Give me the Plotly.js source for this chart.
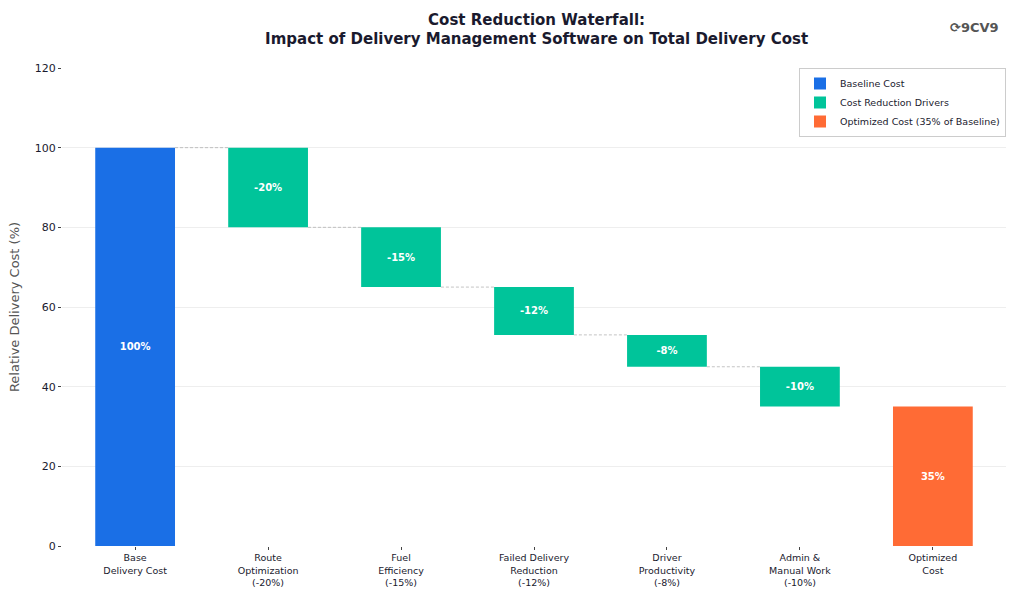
<!DOCTYPE html>
<html>
<head>
<meta charset="utf-8">
<script src="https://cdn.plot.ly/plotly-3.0.1.min.js"></script>
<style>body{margin:0;background:#fff}#chart{width:1024px;height:593px}</style>
</head>
<body>
<div id="chart"></div>
<script>
var categorias = ['Base<br>Delivery Cost', 'Route<br>Optimization<br>(-20%)', 'Fuel<br>Efficiency<br>(-15%)',
  'Failed Delivery<br>Reduction<br>(-12%)', 'Driver<br>Productivity<br>(-8%)', 'Admin &<br>Manual Work<br>(-10%)', 'Optimized<br>Cost'];
var base_coste = 100;
var reducciones = [20, 15, 12, 8, 10];
var coste_final = 35;

var azul = '#1a6fe6', verde = '#00c49a', naranja = '#ff6b35';
var posiciones = categorias.map(function (c, i) { return i; });

// niveles acumulados
var niveles = [base_coste];
reducciones.forEach(function (r) { niveles.push(niveles[niveles.length - 1] - r); });

var etiqueta = {color: 'white', size: 10, family: 'DejaVu Sans'};

var data = [];
data.push({
  x: [0], y: [base_coste], type: 'bar', width: 0.6, name: 'Baseline Cost',
  marker: {color: azul}, text: ['<b>' + base_coste + '%</b>'], textposition: 'inside', insidetextanchor: 'middle',
  textfont: etiqueta, hoverinfo: 'skip'
});
data.push({
  x: posiciones.slice(1, 6), y: reducciones, base: niveles.slice(1), type: 'bar', width: 0.6,
  name: 'Cost Reduction Drivers', marker: {color: verde},
  text: reducciones.map(function (r) { return '<b>-' + r + '%</b>'; }),
  textposition: 'inside', insidetextanchor: 'middle', textfont: etiqueta
});
data.push({
  x: [6], y: [coste_final], type: 'bar', width: 0.6, name: 'Optimized Cost (35% of Baseline)',
  marker: {color: naranja}, text: ['<b>' + coste_final + '%</b>'], textposition: 'inside', insidetextanchor: 'middle',
  textfont: etiqueta
});

// conectores
for (var i = 0; i < reducciones.length; i++) {
  data.push({
    x: [i + 0.3, i + 0.7], y: [niveles[i], niveles[i]], mode: 'lines', type: 'scatter',
    line: {color: '#aaaaaa', width: 0.7, dash: '3px,2px'}, showlegend: false, hoverinfo: 'skip'
  });
}

var layout = {
  width: 1024, height: 593,
  margin: {l: 62, r: 18, t: 68, b: 47},
  paper_bgcolor: 'white', plot_bgcolor: 'white',
  font: {family: 'DejaVu Sans', size: 11, color: '#1a1a2e'},
  title: {text: '<b>Cost Reduction Waterfall:<br>Impact of Delivery Management Software on Total Delivery Cost</b>',
    x: 0.524, xanchor: 'center', y: 0.958, yanchor: 'top', font: {size: 15, family: 'DejaVu Sans', color: '#1a1a2e'}},
  barmode: 'overlay',
  xaxis: {tickvals: posiciones, ticktext: categorias, range: [-0.55, 6.55], showgrid: false,
    zeroline: false, showline: false, tickfont: {size: 9.5}, ticks: 'outside', ticklen: 3, tickcolor: '#444'},
  yaxis: {range: [0, 120], dtick: 20, gridcolor: '#eeeeee', zeroline: false,
    showline: false, ticks: 'outside', ticklen: 3, tickcolor: '#444',
    title: {text: 'Relative Delivery Cost (%)', standoff: 12, font: {size: 13, color: '#555'}}},
  legend: {x: 1, y: 1, xanchor: 'right', yanchor: 'top', bordercolor: '#cccccc', borderwidth: 1,
    font: {size: 9.5}, bgcolor: 'white', tracegroupgap: 0, itemwidth: 30},
  annotations: [{text: '<b>⟳9CV9</b>', xref: 'paper', yref: 'paper', x: 0.995, y: 1.105, xanchor: 'right',
    showarrow: false, font: {size: 13, color: '#555'}}]
};

Plotly.newPlot('chart', data, layout, {displayModeBar: false});
</script>
</body>
</html>
